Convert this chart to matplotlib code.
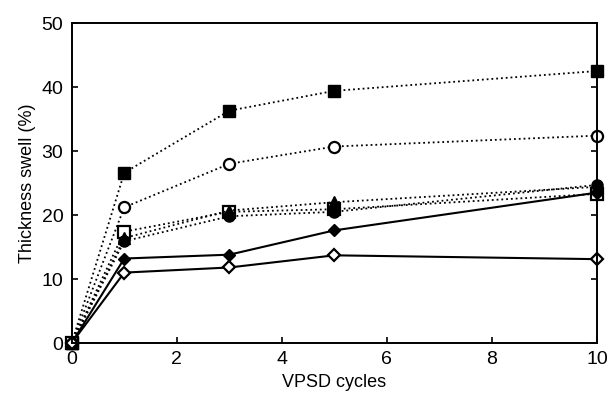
import numpy as np
import matplotlib.pyplot as plt

plt.rcParams['font.family'] = ['Liberation Sans', 'DejaVu Sans']

cycles = [0, 1, 3, 5, 10]

# thickness swell (%) per treatment
sq_filled = [0, 26.6, 36.3, 39.4, 42.5]
circ_open = [0, 21.2, 28.0, 30.7, 32.4]
sq_open = [0, 17.4, 20.5, 20.9, 23.3]
tri_filled = [0, 16.4, 20.7, 22.0, 24.4]
circ_filled = [0, 15.9, 19.8, 20.5, 24.7]
dia_filled = [0, 13.2, 13.8, 17.6, 23.5]
dia_open = [0, 11.0, 11.8, 13.7, 13.1]

fig = plt.figure(figsize=(6.08, 4.0), dpi=100)
ax = fig.add_axes([0.118, 0.1425, 0.864, 0.8])

dot = dict(color='black', linestyle=':', linewidth=1.3, clip_on=False)
sol = dict(color='black', linestyle='-', linewidth=1.5, clip_on=False)

ax.plot(cycles, sq_filled, marker='s', mfc='black', markersize=8, **dot)
ax.plot(cycles, circ_open, marker='o', mfc='white', mew=1.6, markersize=8, **dot)
ax.plot(cycles, sq_open, marker='s', mfc='white', mew=1.6, markersize=8, **dot)
ax.plot(cycles, tri_filled, marker='^', mfc='black', markersize=8, **dot)
ax.plot(cycles, circ_filled, marker='o', mfc='black', markersize=8, **dot)
ax.plot(cycles, dia_filled, marker='D', mfc='black', markersize=6.5, **sol)
ax.plot(cycles, dia_open, marker='D', mfc='white', mew=1.6, markersize=6.5, **sol)

ax.set_xlim(0, 10)
ax.set_ylim(0, 50)
ax.set_xticks([0, 2, 4, 6, 8, 10])
ax.set_yticks([0, 10, 20, 30, 40, 50])
ax.tick_params(direction='in', length=4, width=1.2, labelsize=14, right=True, top=False, pad=6)
for s in ax.spines.values():
    s.set_linewidth(1.4)

ax.set_xlabel('VPSD cycles', fontsize=13)
ax.set_ylabel('Thickness swell (%)', fontsize=13)

fig.savefig('out.png', dpi=100)
